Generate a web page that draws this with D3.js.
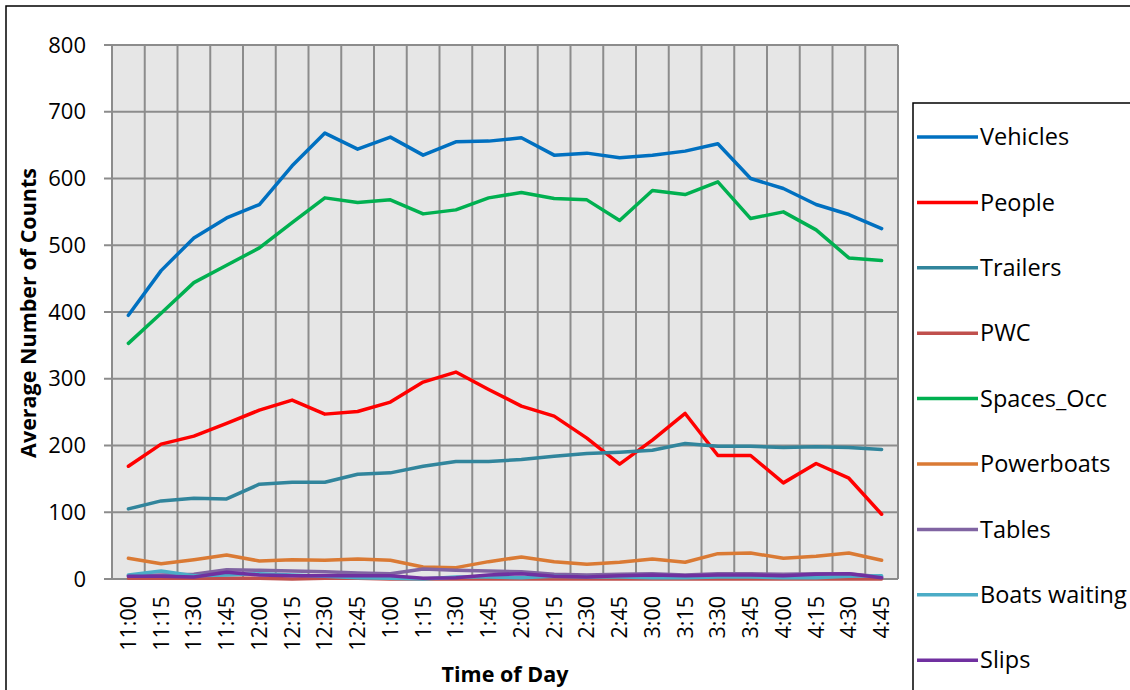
<!DOCTYPE html>
<html><head><meta charset="utf-8">
<script src="https://cdn.jsdelivr.net/npm/d3@7/dist/d3.min.js"></script>
<style>body{margin:0;background:#fff}svg{display:block}text{font-family:"Open Sans",sans-serif}</style>
</head><body>
<svg id="c" width="1130" height="690"></svg>
<script>
const categories = ["11:00","11:15","11:30","11:45","12:00","12:15","12:30","12:45","1:00","1:15","1:30","1:45","2:00","2:15","2:30","2:45","3:00","3:15","3:30","3:45","4:00","4:15","4:30","4:45"];
const yTicks = [0,100,200,300,400,500,600,700,800];
const seriesNames = ["Vehicles","People","Trailers","PWC","Spaces_Occ","Powerboats","Tables","Boats waiting","Slips"];
const seriesColors = ["#0070C0","#FF0000","#31859C","#C0504D","#00B050","#DA7A34","#8064A2","#4BACC6","#7030A0"];
const vehicles   = [395,462,511,541,561,619,668,644,662,635,655,656,661,635,638,631,635,641,652,600,585,561,546,525];
const people     = [169,202,214,233,253,268,247,251,265,295,310,284,259,244,211,172,208,248,185,185,144,173,151,97];
const trailers   = [105,117,121,120,142,145,145,157,159,169,176,176,179,184,188,190,193,203,199,199,197,198,197,194];
const pwc        = [1,1,1,1,1,0,1,1,0,0,0,0,0,0,0,0,0,0,0,0,0,0,0,0];
const spacesOcc  = [353,398,444,470,496,534,571,564,568,547,553,571,579,570,568,537,582,576,595,540,550,523,481,477];
const powerboats = [31,23,29,36,27,29,28,30,28,18,17,26,33,26,22,25,30,25,38,39,31,34,39,28];
const tables     = [5,6,7,14,13,12,11,9,8,15,13,12,11,7,6,7,8,6,8,8,7,8,8,3];
const boatsWait  = [6,12,5,6,8,6,4,2,1,0,3,3,2,4,3,3,2,2,3,3,2,2,4,5];
const slips      = [4,4,3,10,6,5,5,5,5,1,2,6,8,4,3,5,6,5,6,6,5,7,8,2];
const seriesValues = [vehicles,people,trailers,pwc,spacesOcc,powerboats,tables,boatsWait,slips];

const svg = d3.select("#c");
const L=112,R=898,T=45,B=579;
const x = d3.scaleBand().domain(categories).range([L,R]).padding(0);
const y = d3.scaleLinear().domain([0,800]).range([B,T]);

svg.append("rect").attr("x",6).attr("y",6).attr("width",1140).attr("height",700).attr("fill","#fff").attr("stroke","#000").attr("stroke-width",1.5);
svg.append("rect").attr("x",L).attr("y",T).attr("width",R-L).attr("height",B-T).attr("fill","#e6e6e6");

const g = svg.append("g");
categories.forEach((c,i)=>{ if(i>0){ const xx=x(c); g.append("line").attr("x1",xx).attr("x2",xx).attr("y1",T).attr("y2",B).attr("stroke","#8c8c8c").attr("stroke-width",2);} });
g.append("line").attr("x1",R).attr("x2",R).attr("y1",T).attr("y2",B).attr("stroke","#8c8c8c").attr("stroke-width",2);
yTicks.forEach(v=>{ g.append("line").attr("x1",L-8).attr("x2",R).attr("y1",y(v)).attr("y2",y(v)).attr("stroke","#8c8c8c").attr("stroke-width",2); });
g.append("line").attr("x1",L).attr("x2",L).attr("y1",T).attr("y2",B).attr("stroke","#8c8c8c").attr("stroke-width",2);

const ya = svg.append("g").attr("transform",`translate(${L},0)`).call(d3.axisLeft(y).tickValues(yTicks).tickSize(0).tickPadding(26));
ya.select(".domain").remove();
ya.selectAll("text").attr("font-size",22).attr("fill","#000").attr("font-family","'Open Sans',sans-serif");

const xa = svg.append("g").attr("transform",`translate(0,${B})`).call(d3.axisBottom(x).tickSize(0));
xa.select(".domain").remove();
xa.selectAll("text").attr("font-size",21.5).attr("fill","#000").attr("font-family","'Open Sans',sans-serif")
  .attr("transform","rotate(-90)").attr("text-anchor","end").attr("dx","-17").attr("dy","0.35em").attr("y",0).attr("x",0);

svg.append("text").attr("x",505).attr("y",682).attr("text-anchor","middle").attr("font-weight","bold").attr("font-size",21.5).text("Time of Day");
svg.append("text").attr("transform","translate(36,313) rotate(-90)").attr("text-anchor","middle").attr("font-weight","bold").attr("font-size",21.5).text("Average Number of Counts");

const line = d3.line().x((d,i)=>x(categories[i])+x.bandwidth()/2).y(d=>y(d));
seriesValues.forEach((vals,k)=>{
  svg.append("path").datum(vals).attr("d",line).attr("fill","none").attr("stroke",seriesColors[k]).attr("stroke-width",3.5).attr("stroke-linejoin","round").attr("stroke-linecap","round");
});

svg.append("rect").attr("x",913).attr("y",103).attr("width",300).attr("height",700).attr("fill","#fff").attr("stroke","#000").attr("stroke-width",1.5);
seriesNames.forEach((n,k)=>{
  const yy = 137 + k*65.4;
  svg.append("line").attr("x1",917).attr("x2",978).attr("y1",yy).attr("y2",yy).attr("stroke",seriesColors[k]).attr("stroke-width",3.5);
  svg.append("text").attr("x",980).attr("y",yy).attr("dy","0.35em").attr("font-size",23.5).text(n);
});
</script>
</body></html>
